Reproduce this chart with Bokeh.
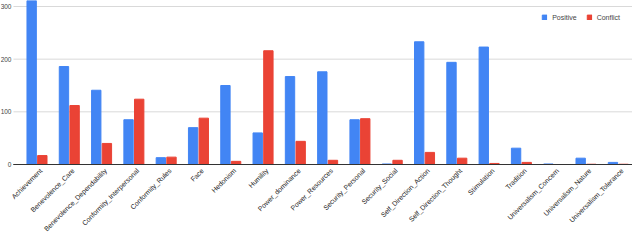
import math
from bokeh.plotting import figure
from bokeh.models import ColumnDataSource, Range1d, Legend, LegendItem
from bokeh.core.properties import value
from bokeh.embed import file_html
from bokeh.resources import INLINE

categories = ["Achievement", "Benevolence_Care", "Benevolence_Dependability",
              "Conformity_Interpersonal", "Conformity_Rules", "Face", "Hedonism",
              "Humility", "Power_dominance", "Power_Resources", "Security_Personal",
              "Security_Social", "Self_Direction_Action", "Self_Direction_Thought",
              "Stimulation", "Tradition", "Universalism_Concern", "Universalism_Nature",
              "Universalism_Tolerance"]
positive = [312, 186, 141, 85, 13, 70, 150, 60, 167, 176, 85, 1, 233, 194, 223, 31, 1, 12, 4]
conflict = [17, 112, 40, 124, 14, 88, 6, 216, 44, 8, 87, 8, 23, 12, 2, 4, 0, 0.5, 0.5]
y_ticks = [0, 100, 200, 300]
y_tick_labels = ["0", "100", "200", "300"]

BLUE = "#4285F4"
RED = "#EA4335"
FONT = "Liberation Sans"

X_START, X_END = -0.63, 18.94
GRID_START = -0.228

idx = [i + 0.5 for i in range(len(categories))]
src = ColumnDataSource(dict(
    xp=[x - 0.165 for x in idx],
    xc=[x + 0.165 for x in idx],
    pos=positive, con=conflict,
))
lab_src = ColumnDataSource(dict(x=idx, y=[0] * len(idx), text=categories))
grid_src = ColumnDataSource(dict(
    x0=[GRID_START] * len(y_ticks), x1=[X_END] * len(y_ticks),
    y=y_ticks, text=y_tick_labels,
    color=["#333333" if t == 0 else "#d9d9d9" for t in y_ticks],
))

p = figure(width=632, height=232, output_backend="svg", toolbar_location=None,
           x_axis_location=None, y_axis_location=None,
           x_range=Range1d(X_START, X_END), y_range=Range1d(-129.1, 311.4),
           min_border_left=0, min_border_right=0, min_border_top=0, min_border_bottom=0)
p.outline_line_color = None
p.xgrid.grid_line_color = None
p.ygrid.grid_line_color = None

# gridlines (light) then bars then baseline
p.segment(x0="x0", x1="x1", y0="y", y1="y", line_color="color", line_width=1,
          source=grid_src)
rp = p.vbar(x="xp", top="pos", width=0.29, source=src, color=BLUE, line_color=BLUE)
rc = p.vbar(x="xc", top="con", width=0.29, source=src, color=RED, line_color=RED)
p.segment(x0=[GRID_START], x1=[X_END], y0=[y_ticks[0]], y1=[y_ticks[0]],
          line_color="#333333", line_width=1)

# y tick labels
p.text(x="x0", y="y", text="text", source=grid_src, text_align="right",
       text_baseline="middle", x_offset=-2,
       text_font=value(FONT), text_font_size="6.5px", text_color="#444444")

# category labels
p.text(x="x", y="y", text="text", source=lab_src, angle=math.pi / 4,
       text_align="right", text_baseline="middle", x_offset=4, y_offset=5,
       text_font=value(FONT), text_font_size="6.9px", text_color="#222222")

legend = Legend(items=[LegendItem(label="Positive", renderers=[rp]),
                       LegendItem(label="Conflict", renderers=[rc])],
                orientation="horizontal", location="top_right")
legend.glyph_width = 6
legend.glyph_height = 6
legend.label_height = 10
legend.label_width = 10
legend.label_standoff = 5
legend.spacing = 9
legend.padding = 0
legend.margin = 12
legend.border_line_color = None
legend.background_fill_alpha = 0
legend.label_text_font = FONT
legend.label_text_font_size = "7px"
legend.label_text_color = "#444444"
p.add_layout(legend, "center")

open("out.html", "w").write(file_html(p, INLINE))
